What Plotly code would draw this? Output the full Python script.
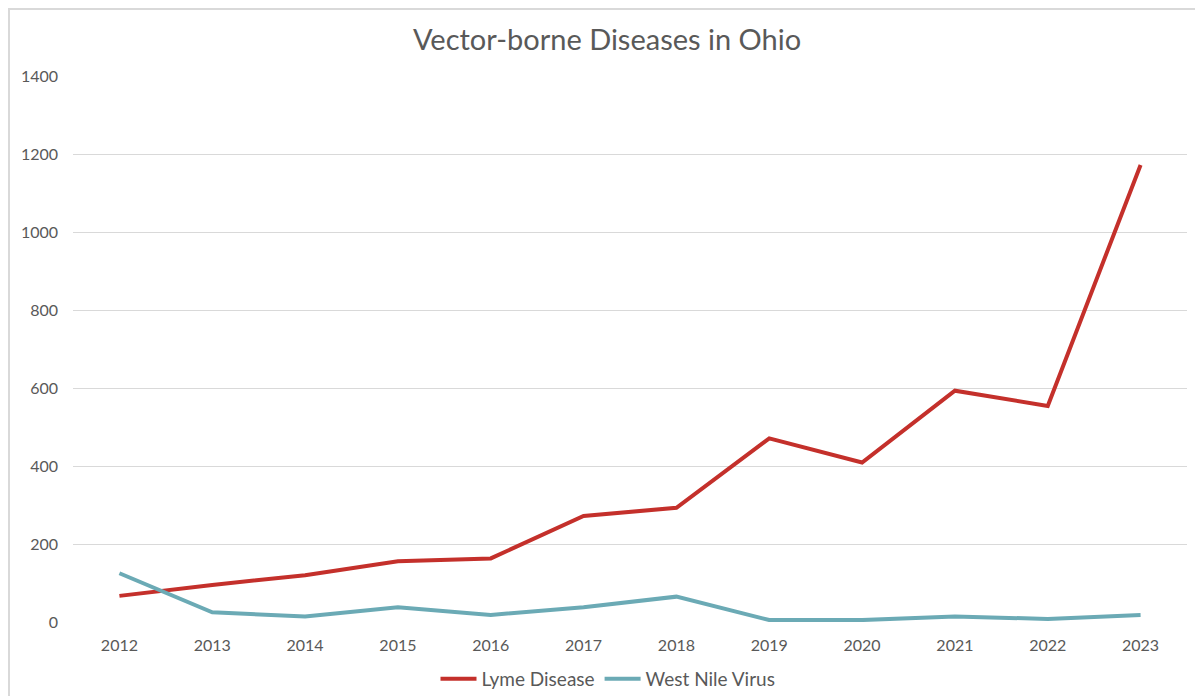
import plotly.graph_objects as go

years = ["2012", "2013", "2014", "2015", "2016", "2017", "2018", "2019", "2020", "2021", "2022", "2023"]
lyme = [67, 95, 120, 156, 163, 272, 293, 471, 409, 593, 554, 1172]
wnv = [125, 25, 14, 38, 18, 38, 65, 5, 5, 14, 8, 18]
y_ticks = [0, 200, 400, 600, 800, 1000, 1200, 1400]

# the page body adds an 8px offset; positions below are in page pixels
OFF = 8
W, H = 1203 - OFF, 696 - OFF
PL, PR, PT, PB = 73, 1187, 76, 622  # plot area in page pixels
L, R, T, B = PL - OFF, W - (PR - OFF), PT - OFF, H - (PB - OFF)
pw, ph = W - L - R, H - T - B

FONT = "Lato, 'Open Sans', sans-serif"
GREY = "#595959"

fig = go.Figure()
fig.add_trace(go.Scatter(x=years, y=lyme, mode="lines", name="Lyme Disease",
                         line=dict(color="#C4302B", width=4)))
fig.add_trace(go.Scatter(x=years, y=wnv, mode="lines", name="West Nile Virus",
                         line=dict(color="#6BAAB5", width=4)))

def px_x(p):
    return (p - OFF - L) / pw

def px_y(p):
    return (H - B - (p - OFF)) / ph

fig.update_layout(
    width=W, height=H,
    margin=dict(l=L, r=R, t=T, b=B, autoexpand=False),
    paper_bgcolor="white", plot_bgcolor="white",
    font=dict(family=FONT, color=GREY, size=16),
    title=dict(text="Vector-borne Diseases in Ohio", x=(607 - OFF) / W, xanchor="center",
               y=1 - (40 - OFF) / H, yanchor="middle",
               font=dict(size=29, color=GREY, family=FONT)),
    xaxis=dict(type="category", range=[-0.5, len(years) - 0.5], automargin=False,
               showgrid=False, zeroline=False, showline=False,
               ticks="", tickfont=dict(size=16, color=GREY), ticklabelstandoff=12),
    yaxis=dict(range=[0, 1400], tickvals=y_ticks, automargin=False, showgrid=True,
               gridcolor="#D9D9D9", gridwidth=1, zeroline=False, showline=False, ticks="",
               tickfont=dict(size=16, color=GREY), ticklabelstandoff=14),
    legend=dict(orientation="h", x=px_x(608), xanchor="center", y=px_y(679), yanchor="middle",
                font=dict(size=19, color=GREY), itemwidth=36, tracegroupgap=0,
                bgcolor="rgba(0,0,0,0)"),
    hovermode=False,
    showlegend=True,
)

fig.add_shape(type="rect", xref="paper", yref="paper",
              x0=px_x(OFF + 1), x1=px_x(1260), y0=px_y(760), y1=px_y(OFF + 1),
              line=dict(color="#D9D9D9", width=2), fillcolor="rgba(0,0,0,0)", layer="below")

fig.write_html("out.html")
